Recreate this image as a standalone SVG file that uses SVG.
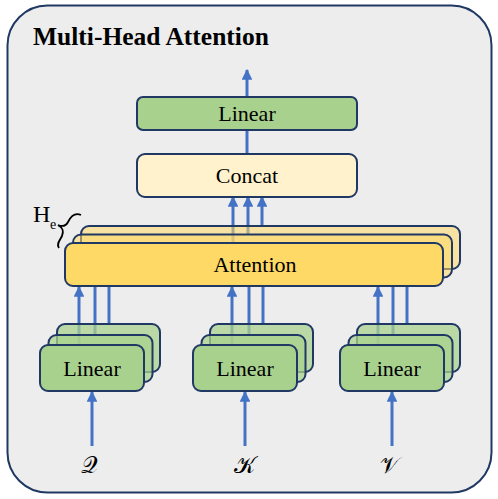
<svg xmlns="http://www.w3.org/2000/svg" width="498" height="499" viewBox="0 0 498 499">
<style>
.box{stroke:#203864;stroke-width:2}
.green{fill:#a9d18e}
.greenb{fill:#a9d18e;fill-opacity:0.75}
.yel{fill:#ffd966}
.yelb{fill:#ffd966;fill-opacity:0.55}
.cream{fill:#fff2cc}
text{font-family:'Liberation Serif','Nimbus Roman','Nimbus Roman No9 L',FreeSerif,Times,'Times New Roman','DejaVu Serif',serif}
.lbl{font-size:22px;fill:#000;text-anchor:middle}
.arr{stroke:#4472c4;stroke-width:3;fill:none}
text.math{font-family:'DejaVu Serif','DejaVu Sans','Noto Sans',serif;font-size:23px;fill:#000;text-anchor:middle}
</style>
<defs>
<marker id="ah" viewBox="0 0 10 10" refX="9" refY="5" markerWidth="3.6" markerHeight="3.6" orient="auto" markerUnits="strokeWidth">
<path d="M0,0 L10,5 L0,10 z" fill="#4472c4"/>
</marker>
</defs>
<rect id="frame" x="7.5" y="5.5" width="484" height="487" rx="40" fill="#ededed" stroke="#203864" stroke-width="2"/>
<text x="33" y="45" font-size="25.5" font-weight="bold">Multi-Head Attention</text>

<g id="heads-label">
<text x="33" y="222" font-size="24">H</text>
<text x="50" y="229" font-size="14">e</text>
<path d="M81,215 C74,212 70,218 68,222 C66,226 63,227 58,225 C63,228 64,231 62,236 C60,240 56,244 59,248" fill="none" stroke="#000" stroke-width="1.8"/>
</g>

<g id="connectors">
<line class="arr" x1="247" y1="97" x2="247" y2="70" marker-end="url(#ah)"/>
<line class="arr" x1="247" y1="154" x2="247" y2="130"/>
<line class="arr" x1="233" y1="243" x2="233" y2="197" marker-end="url(#ah)"/>
<line class="arr" x1="248" y1="234" x2="248" y2="197" marker-end="url(#ah)"/>
<line class="arr" x1="262" y1="226" x2="262" y2="197" marker-end="url(#ah)"/>
<line class="arr" x1="79" y1="345" x2="79" y2="287" marker-end="url(#ah)"/>
<line class="arr" x1="95" y1="335" x2="95" y2="287"/>
<line class="arr" x1="109" y1="325" x2="109" y2="287"/>
<line class="arr" x1="232" y1="345" x2="232" y2="287" marker-end="url(#ah)"/>
<line class="arr" x1="249" y1="335" x2="249" y2="287"/>
<line class="arr" x1="263" y1="325" x2="263" y2="287"/>
<line class="arr" x1="378" y1="345" x2="378" y2="287" marker-end="url(#ah)"/>
<line class="arr" x1="393" y1="335" x2="393" y2="287"/>
<line class="arr" x1="407" y1="325" x2="407" y2="287"/>
<line class="arr" x1="92" y1="446" x2="92" y2="392" marker-end="url(#ah)"/>
<line class="arr" x1="245" y1="446" x2="245" y2="392" marker-end="url(#ah)"/>
<line class="arr" x1="392" y1="446" x2="392" y2="392" marker-end="url(#ah)"/>
</g>

<g id="linear-out">
<rect class="box green" x="137" y="97" width="220" height="33" rx="6"/>
<text class="lbl" x="247" y="121">Linear</text>
</g>
<g id="concat">
<rect class="box cream" x="137" y="154" width="220" height="43" rx="8"/>
<text class="lbl" x="247" y="183">Concat</text>
</g>
<g id="attention">
<rect class="box yelb" x="81" y="226" width="379" height="43" rx="8"/>
<rect class="box yelb" x="73" y="234.5" width="379" height="43" rx="8"/>
<rect class="box yel" x="65" y="243" width="378" height="43" rx="8"/>
<text class="lbl" x="255" y="272">Attention</text>
</g>
<g id="linear-q">
<rect class="box greenb" x="57" y="324" width="103" height="48" rx="8"/>
<rect class="box greenb" x="48.5" y="335" width="104" height="47" rx="8"/>
<rect class="box green" x="40" y="345" width="104" height="46" rx="8"/>
<text class="lbl" x="92" y="376">Linear</text>
</g>
<g id="linear-k">
<rect class="box greenb" x="210" y="324" width="103" height="48" rx="8"/>
<rect class="box greenb" x="201.5" y="335" width="104" height="47" rx="8"/>
<rect class="box green" x="193" y="345" width="104" height="46" rx="8"/>
<text class="lbl" x="245" y="376">Linear</text>
</g>
<g id="linear-v">
<rect class="box greenb" x="357" y="324" width="103" height="48" rx="8"/>
<rect class="box greenb" x="348.5" y="335" width="104" height="47" rx="8"/>
<rect class="box green" x="340" y="345" width="104" height="46" rx="8"/>
<text class="lbl" x="392" y="376">Linear</text>
</g>
<g id="inputs">
<text class="math" x="89" y="473">𝒬</text>
<text class="math" x="244" y="473">𝒦</text>
<text class="math" x="389" y="473">𝒱</text>
</g>
</svg>
